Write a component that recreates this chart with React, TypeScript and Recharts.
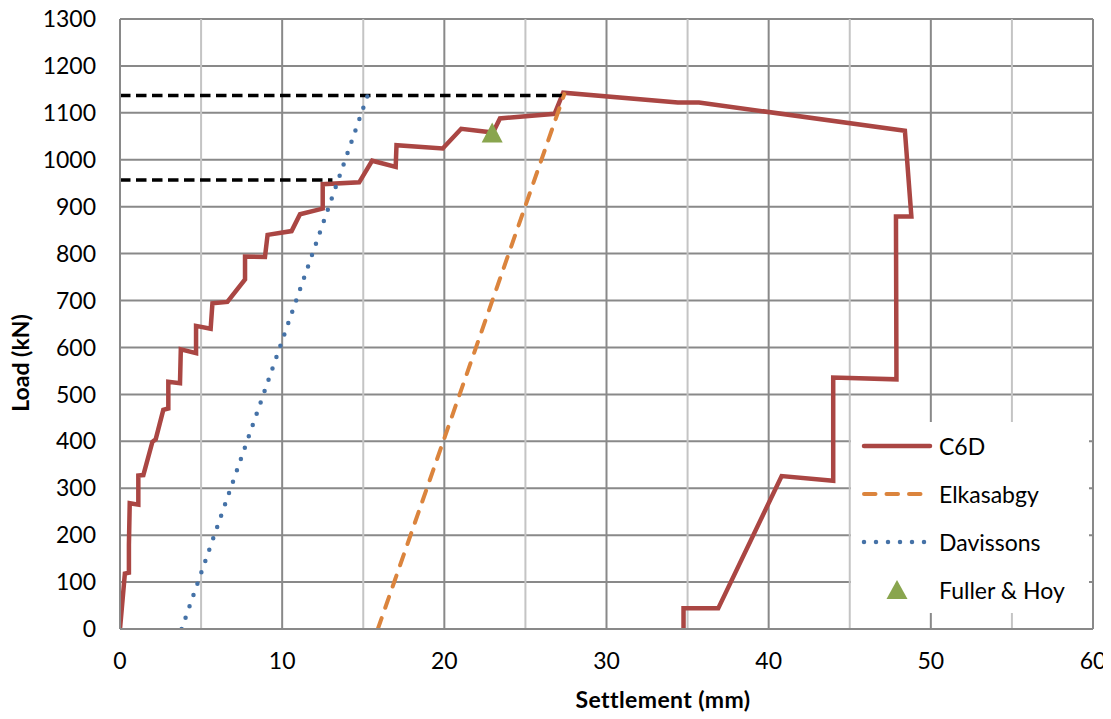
import {
  CartesianGrid,
  ComposedChart,
  Label,
  Legend,
  Line,
  ReferenceLine,
  Scatter,
  XAxis,
  YAxis,
} from 'recharts';

const xTicks = [0, 10, 20, 30, 40, 50, 60];
const xMinorTicks = [5, 15, 25, 35, 45, 55];
const yTicks = [0, 100, 200, 300, 400, 500, 600, 700, 800, 900, 1000, 1100, 1200, 1300];

// load test curve (settlement mm, load kN)
const c6d = [
  { x: 0, y: 0 },
  { x: 0.3, y: 118 },
  { x: 0.55, y: 120 },
  { x: 0.55, y: 180 },
  { x: 0.6, y: 268 },
  { x: 1.13, y: 265 },
  { x: 1.13, y: 327 },
  { x: 1.44, y: 328 },
  { x: 2.0, y: 399 },
  { x: 2.2, y: 404 },
  { x: 2.67, y: 467 },
  { x: 2.98, y: 470 },
  { x: 2.98, y: 527 },
  { x: 3.7, y: 524 },
  { x: 3.75, y: 596 },
  { x: 4.69, y: 588 },
  { x: 4.69, y: 646 },
  { x: 5.59, y: 640 },
  { x: 5.7, y: 694 },
  { x: 6.62, y: 697 },
  { x: 7.71, y: 745 },
  { x: 7.71, y: 794 },
  { x: 8.94, y: 793 },
  { x: 9.1, y: 840 },
  { x: 10.58, y: 848 },
  { x: 11.1, y: 884 },
  { x: 12.5, y: 896 },
  { x: 12.5, y: 948 },
  { x: 14.75, y: 952 },
  { x: 15.55, y: 998 },
  { x: 17.0, y: 985 },
  { x: 17.05, y: 1031 },
  { x: 19.9, y: 1024 },
  { x: 21.04, y: 1066 },
  { x: 23.0, y: 1058 },
  { x: 23.43, y: 1088 },
  { x: 26.8, y: 1098 },
  { x: 27.33, y: 1143 },
  { x: 34.4, y: 1122 },
  { x: 35.7, y: 1122 },
  { x: 48.4, y: 1062 },
  { x: 48.8, y: 879 },
  { x: 47.85, y: 879 },
  { x: 47.88, y: 532 },
  { x: 43.98, y: 536 },
  { x: 43.98, y: 316 },
  { x: 40.8, y: 326 },
  { x: 36.89, y: 44 },
  { x: 34.75, y: 44 },
  { x: 34.75, y: 0 },
];

const elkasabgy = [
  { x: 15.9, y: 0 },
  { x: 27.4, y: 1140 },
];

const davissons = [
  { x: 3.8, y: 0 },
  { x: 15.3, y: 1140 },
];

const fullerHoy = [{ x: 22.95, y: 1058 }];

// failure load guide lines
const guideHigh = [
  { x: 0, y: 1137 },
  { x: 27.3, y: 1137 },
];
const guideLow = [
  { x: 0, y: 957 },
  { x: 13.1, y: 957 },
];

const seriesNames = ['C6D', 'Elkasabgy', 'Davissons', 'Fuller & Hoy'];

const font = 'Lato, "Open Sans", sans-serif';
const gridDark = '#898989';
const gridLight = '#c4c4c4';

const legendStyle: Record<string, { color: string; width: number; dash?: string; cap: 'butt' | 'round' }> = {
  C6D: { color: '#AA4643', width: 4.5, cap: 'round' },
  Elkasabgy: { color: '#DB843D', width: 4, dash: '11.5 11', cap: 'round' },
  Davissons: { color: '#4572A7', width: 4.5, dash: '0 12', cap: 'round' },
};

function Triangle(props: any) {
  const { cx, cy } = props;
  if (cx == null || cy == null) return null;
  return <polygon points={`${cx},${cy - 10} ${cx + 10.5},${cy + 10} ${cx - 10.5},${cy + 10}`} fill="#89A54E" />;
}

function LegendBox({ payload }: any) {
  const items = [...(payload || [])]
    .filter((p: any) => seriesNames.includes(p.value))
    .sort((a: any, b: any) => seriesNames.indexOf(a.value) - seriesNames.indexOf(b.value));
  return (
    <div style={{ background: '#fff', width: 238, height: 191, fontFamily: font, fontSize: 23, color: '#000' }}>
      {items.map((entry: any) => {
        const st = legendStyle[entry.value];
        return (
          <div key={entry.value} style={{ display: 'flex', alignItems: 'center', height: 48 }}>
            <svg width={88} height={48} style={{ flex: 'none' }}>
              {st ? (
                <line
                  x1={13}
                  x2={st.dash === '0 12' ? 80 : 79}
                  y1={24}
                  y2={24}
                  stroke={st.color}
                  strokeWidth={st.width}
                  strokeDasharray={st.dash}
                  strokeLinecap={st.cap}
                />
              ) : (
                <polygon points="46,14 56.5,33 35.5,33" fill="#89A54E" />
              )}
            </svg>
            <span style={{ whiteSpace: 'nowrap' }}>{entry.value}</span>
          </div>
        );
      })}
    </div>
  );
}

export default function App() {
  return (
    <div style={{ width: 1111, height: 719, margin: '-8px 0 0 -8px' }}>
      <ComposedChart width={1111} height={719} margin={{ top: 19, right: 18, bottom: 0, left: 0 }}>
        <CartesianGrid stroke={gridDark} strokeWidth={2} />
        {xMinorTicks.map((v) => (
          <ReferenceLine key={v} x={v} stroke={gridLight} strokeWidth={2} />
        ))}
        <XAxis
          type="number"
          dataKey="x"
          domain={[0, 60]}
          ticks={xTicks}
          allowDataOverflow
          height={90}
          tickSize={0}
          tickMargin={24}
          axisLine={{ stroke: gridDark, strokeWidth: 2 }}
          tick={{ fill: '#000', fontSize: 23, fontFamily: font }}
        >
          <Label
            content={({ viewBox }: any) => (
              <text
                x={viewBox.x + 543}
                y={viewBox.y + 70}
                textAnchor="middle"
                dominantBaseline="central"
                fontFamily={font}
                fontWeight="bold"
                fontSize={23}
                letterSpacing={0.4}
                fill="#000"
              >
                Settlement (mm)
              </text>
            )}
          />
        </XAxis>
        <YAxis
          type="number"
          dataKey="y"
          domain={[0, 1300]}
          ticks={yTicks}
          allowDataOverflow
          width={120}
          tickSize={0}
          tickMargin={24}
          axisLine={{ stroke: gridDark, strokeWidth: 2 }}
          tick={{ fill: '#000', fontSize: 23, fontFamily: font }}
        >
          <Label
            content={({ viewBox }: any) => (
              <text
                x={20}
                y={viewBox.y + 344}
                textAnchor="middle"
                dominantBaseline="central"
                transform={`rotate(-90, 20, ${viewBox.y + 344})`}
                fontFamily={font}
                fontWeight="bold"
                fontSize={23}
                fill="#000"
              >
                Load (kN)
              </text>
            )}
          />
        </YAxis>
        <Line
          name="C6D"
          data={c6d}
          dataKey="y"
          type="linear"
          stroke="#AA4643"
          strokeWidth={4.5}
          strokeLinejoin="miter"
          dot={false}
          activeDot={false}
          legendType="line"
          isAnimationActive={false}
        />
        <Line
          name="guideHigh"
          data={guideHigh}
          dataKey="y"
          type="linear"
          stroke="#000"
          strokeWidth={3.5}
          strokeDasharray="10.5 5.5"
          dot={false}
          activeDot={false}
          legendType="none"
          isAnimationActive={false}
        />
        <Line
          name="guideLow"
          data={guideLow}
          dataKey="y"
          type="linear"
          stroke="#000"
          strokeWidth={3.5}
          strokeDasharray="10.5 5.5"
          dot={false}
          activeDot={false}
          legendType="none"
          isAnimationActive={false}
        />
        <Line
          name="Elkasabgy"
          data={elkasabgy}
          dataKey="y"
          type="linear"
          stroke="#DB843D"
          strokeWidth={4}
          strokeDasharray="11.5 11"
          strokeLinecap="round"
          dot={false}
          activeDot={false}
          legendType="line"
          isAnimationActive={false}
        />
        <Line
          name="Davissons"
          data={davissons}
          dataKey="y"
          type="linear"
          stroke="#4572A7"
          strokeWidth={4.5}
          strokeDasharray="0 12"
          strokeLinecap="round"
          dot={false}
          activeDot={false}
          legendType="line"
          isAnimationActive={false}
        />
        <Scatter
          name="Fuller & Hoy"
          data={fullerHoy}
          dataKey="y"
          fill="#89A54E"
          shape={<Triangle />}
          legendType="triangle"
          isAnimationActive={false}
        />
        <Legend
          layout="vertical"
          align="center"
          verticalAlign="middle"
          content={<LegendBox />}
          wrapperStyle={{ left: 851, top: 422, width: 238, height: 191, right: 'auto', bottom: 'auto' }}
        />
      </ComposedChart>
    </div>
  );
}
